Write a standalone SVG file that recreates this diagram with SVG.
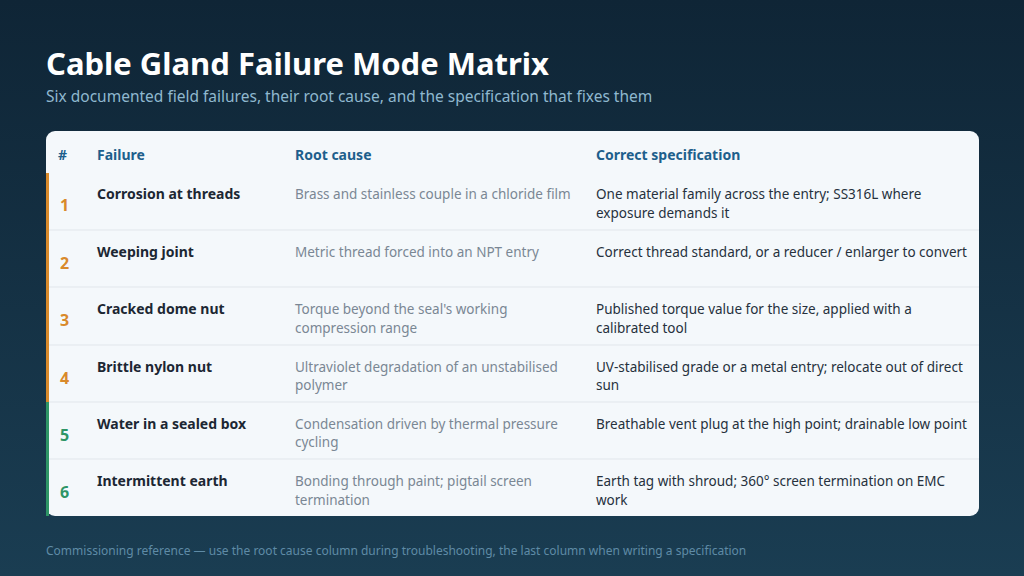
<svg xmlns="http://www.w3.org/2000/svg" width="1024" height="576" viewBox="0 0 1024 576">
<defs>
<linearGradient id="bg" x1="0" y1="0" x2="0" y2="1"><stop offset="0" stop-color="#0f2536"/><stop offset="1" stop-color="#1a3d52"/></linearGradient>
</defs>
<style>
text{font-family:"Noto Sans","Open Sans",sans-serif}
.h{font-size:14px;font-weight:bold;fill:#1d5f8c}
.n{font-size:16px;font-weight:bold}
.o{fill:#d98a2b}.g{fill:#2e9566}
.f{font-size:14px;font-weight:bold;fill:#1c2733}
.r{font-size:13.5px;fill:#7a8794}
.s{font-size:13.5px;fill:#26313d}
.sep{stroke:#e1e6eb;stroke-width:1}
</style>
<rect width="1024" height="576" fill="url(#bg)"/>
<text x="46" y="75" font-size="31" font-weight="bold" fill="#ffffff">Cable Gland Failure Mode Matrix</text>
<text x="46" y="102" font-size="15.5" fill="#8fb8cf">Six documented field failures, their root cause, and the specification that fixes them</text>
<g id="table">
<rect x="46" y="131" width="933" height="385" rx="9" fill="#f4f8fb"/>
<text class="h" x="58" y="160">#</text>
<text class="h" x="97" y="160">Failure</text>
<text class="h" x="295" y="160">Root cause</text>
<text class="h" x="596" y="160">Correct specification</text>
<g class="sep">
<line x1="46" y1="230" x2="979" y2="230"/><line x1="46" y1="287" x2="979" y2="287"/><line x1="46" y1="345" x2="979" y2="345"/><line x1="46" y1="402" x2="979" y2="402"/><line x1="46" y1="459" x2="979" y2="459"/>
</g>
<rect x="46" y="173" width="3" height="229" fill="#d98a2b"/>
<rect x="46" y="402" width="3" height="114" fill="#2e9566"/>
</g>
<g id="row1"><text class="n o" x="60" y="211">1</text><text class="f" x="97" y="199">Corrosion at threads</text><text class="r" x="295" y="199">Brass and stainless couple in a chloride film</text><text class="s" x="596" y="199">One material family across the entry; SS316L where</text><text class="s" x="596" y="218">exposure demands it</text></g>
<g id="row2"><text class="n o" x="60" y="269">2</text><text class="f" x="97" y="257">Weeping joint</text><text class="r" x="295" y="257">Metric thread forced into an NPT entry</text><text class="s" x="596" y="257">Correct thread standard, or a reducer / enlarger to convert</text></g>
<g id="row3"><text class="n o" x="60" y="326">3</text><text class="f" x="97" y="314">Cracked dome nut</text><text class="r" x="295" y="314">Torque beyond the seal's working</text><text class="r" x="295" y="333">compression range</text><text class="s" x="596" y="314">Published torque value for the size, applied with a</text><text class="s" x="596" y="333">calibrated tool</text></g>
<g id="row4"><text class="n o" x="60" y="384">4</text><text class="f" x="97" y="372">Brittle nylon nut</text><text class="r" x="295" y="372">Ultraviolet degradation of an unstabilised</text><text class="r" x="295" y="390">polymer</text><text class="s" x="596" y="372">UV-stabilised grade or a metal entry; relocate out of direct</text><text class="s" x="596" y="390">sun</text></g>
<g id="row5"><text class="n g" x="60" y="441">5</text><text class="f" x="97" y="429">Water in a sealed box</text><text class="r" x="295" y="429">Condensation driven by thermal pressure</text><text class="r" x="295" y="447">cycling</text><text class="s" x="596" y="429">Breathable vent plug at the high point; drainable low point</text></g>
<g id="row6"><text class="n g" x="60" y="498">6</text><text class="f" x="97" y="486">Intermittent earth</text><text class="r" x="295" y="486">Bonding through paint; pigtail screen</text><text class="r" x="295" y="505">termination</text><text class="s" x="596" y="486">Earth tag with shroud; 360° screen termination on EMC</text><text class="s" x="596" y="505">work</text></g>
<text x="46" y="555" font-size="12" fill="#5f8ba6">Commissioning reference — use the root cause column during troubleshooting, the last column when writing a specification</text>
</svg>
